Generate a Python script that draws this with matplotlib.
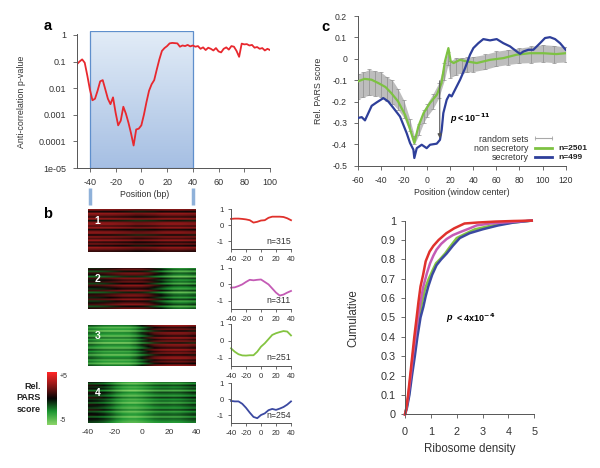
import numpy as np
import matplotlib
matplotlib.use('Agg')
import matplotlib.pyplot as plt
from matplotlib.colors import LinearSegmentedColormap
from matplotlib.lines import Line2D
from matplotlib.transforms import blended_transform_factory

plt.rcParams['font.family'] = ['Liberation Sans', 'DejaVu Sans']
plt.rcParams['axes.unicode_minus'] = False

W, H = 600, 468
TXT = '#333333'
SPINE = '#555555'

# ---- panel a: anti-correlation p-value along position ----
a_pos = list(range(-50, 101, 2))
a_pval = [0.08, 0.10, 0.12, 0.09, 0.03, 0.009, 0.0035, 0.004, 0.008, 0.018,
          0.02, 0.009, 0.004, 0.0025, 0.0045, 0.0012, 0.0004, 0.0006, 0.002, 0.0011,
          0.0005, 0.0002, 0.00007, 0.00028, 0.0003, 0.0004, 0.001, 0.003, 0.008, 0.014,
          0.02, 0.05, 0.12, 0.25, 0.32, 0.38, 0.48, 0.5, 0.49, 0.48,
          0.36, 0.4, 0.38, 0.42, 0.37, 0.40, 0.36, 0.38, 0.30, 0.34,
          0.27, 0.33, 0.30, 0.26, 0.32, 0.24, 0.22, 0.30, 0.34, 0.28,
          0.38, 0.36, 0.25, 0.15, 0.47, 0.44, 0.45, 0.40, 0.42, 0.33,
          0.35, 0.30, 0.32, 0.26, 0.30, 0.27]
a_xticks = [-40, -20, 0, 20, 40, 60, 80, 100]
a_yticks = [1e-5, 1e-4, 1e-3, 1e-2, 1e-1, 1]
a_ylabels = ['1e-05', '0.0001', '0.001', '0.01', '0.1', '1']
a_window = [-40, 40]

# ---- panel b: heatmaps (column profile + row streaks) and cluster means ----
hm_pos = list(range(-40, 41, 5))
hm_profiles = [
    [1.8, 1.8, 1.7, 1.7, 1.6, 1.5, 1.4, 1.2, 1.2, 1.3, 1.4, 1.6, 1.7, 1.7, 1.7, 1.6, 1.5],
    [0.0, 0.1, 0.3, 0.6, 0.9, 1.2, 1.3, 1.3, 1.2, 0.8, 0.0, -0.8, -1.6, -2.2, -2.4, -2.3, -2.0],
    [-2.2, -2.6, -2.9, -3.0, -3.0, -3.0, -2.9, -2.3, -1.2, 0.0, 1.0, 1.4, 1.6, 1.7, 1.7, 1.6, 1.3],
    [-0.4, -0.6, -1.0, -1.6, -2.4, -3.0, -3.3, -3.3, -3.0, -2.6, -2.2, -2.0, -2.0, -2.1, -2.0, -1.7, -1.4],
]
hm_rows = [
    [0.6, -1.6, 0.9, 0.2, -1.0, 1.3, -2.0, 0.5, 1.0, -0.6, 1.2, -1.4, 0.3, 0.8, -1.8, 0.7, -0.5, 1.1, -1.2, 0.4, -1.5, 0.9, 0.1, -0.9],
    [-0.8, 0.6, -1.5, 0.9, 0.2, -2.0, 1.0, -0.4, 0.7, -1.2, 1.3, 0.1, -0.9, 1.1, -1.8, 0.5, 0.9, -0.6, 1.4, -1.0, 0.3, 1.2, -1.4, 0.6],
    [1.0, -0.9, 0.4, -1.7, 0.8, 0.2, -1.2, 1.2, -0.5, 0.6, -2.0, 0.9, 0.1, -1.0, 1.3, -0.3, 0.7, -1.5, 0.5, 1.1, -0.8, 0.3, -1.3, 0.9],
    [0.5, -1.1, 1.0, -0.3, 0.6, -1.6, 0.9, 0.2, -0.9, 1.2, -0.4, 0.4, -1.3, 0.8, 0.1, -0.7, 1.1, -1.0, 0.3, 0.7, -1.4, 0.5, 0.0, -0.6],
]
cl_means = [
    [0.38, 0.4, 0.4, 0.38, 0.35, 0.3, 0.15, 0.2, 0.28, 0.3, 0.45, 0.52, 0.52, 0.52, 0.5, 0.42, 0.3],
    [-0.2, -0.18, -0.1, 0.0, 0.15, 0.28, 0.25, 0.28, 0.3, 0.15, 0.0, -0.25, -0.5, -0.68, -0.62, -0.5, -0.4],
    [-0.45, -0.65, -0.8, -0.87, -0.88, -0.86, -0.86, -0.65, -0.35, -0.15, 0.1, 0.35, 0.45, 0.52, 0.58, 0.55, 0.32],
    [-0.12, -0.15, -0.15, -0.3, -0.55, -0.85, -1.12, -1.2, -1.0, -0.9, -0.7, -0.62, -0.68, -0.6, -0.5, -0.35, -0.15],
]
cl_names = ['1', '2', '3', '4']
cl_n = ['n=315', 'n=311', 'n=251', 'n=254']
cl_colors = ['#e0312c', '#c45bb5', '#84c441', '#3b49a1']

# ---- panel c: PARS score around signal peptide ----
c_rand_pos = [-60, -55, -50, -45, -40, -35, -30, -25, -20, -15, -11, -7, -3, 0, 5, 10, 15, 18,
              20, 25, 30, 35, 40, 50, 60, 70, 80, 90, 100, 110, 120]
c_rand_mean = [-0.13, -0.12, -0.11, -0.115, -0.12, -0.14, -0.155, -0.19, -0.235, -0.31, -0.38, -0.33,
               -0.27, -0.24, -0.2, -0.15, -0.06, 0.0, -0.05, -0.035, -0.03, -0.028, -0.025, -0.015,
               0.0, 0.008, 0.015, 0.02, 0.026, 0.022, 0.02]
c_rand_err = [0.058, 0.058, 0.06, 0.058, 0.058, 0.056, 0.055, 0.048, 0.04, 0.03, 0.02, 0.025, 0.03,
              0.03, 0.035, 0.035, 0.04, 0.03, 0.04, 0.04, 0.035, 0.035, 0.035, 0.035, 0.035, 0.035,
              0.035, 0.038, 0.04, 0.04, 0.035]
c_non_pos = [-60, -54, -48, -42, -36, -31, -25, -19, -15, -11, -7.5, -3, 2.5, 8.5, 12.5, 15.5, 18.5,
             20.5, 23, 28.5, 34, 43, 54.5, 66, 77.5, 89, 100.5, 112, 120]
c_non_val = [-0.106, -0.094, -0.098, -0.114, -0.132, -0.16, -0.2, -0.262, -0.324, -0.394, -0.316,
             -0.254, -0.207, -0.168, -0.114, -0.012, 0.05, -0.012, -0.02, -0.005, -0.012, -0.02,
             -0.005, 0.003, 0.019, 0.026, 0.026, 0.022, 0.026]
c_sec_pos = [-60, -56.5, -53.7, -50.8, -47.9, -43.6, -37.8, -33.5, -29.1, -23.4, -17.6, -14.7, -11.8,
             -11, -8.9, -4.6, -0.3, 2.6, 8.4, 11.2, 12.7, 14.1, 17, 19.3, 21.3, 24.2, 28.6, 32.9,
             37.2, 40.1, 44.4, 48.7, 54.5, 60.3, 66, 71.8, 77.6, 80.5, 83.4, 87.7, 92, 97.8, 102.1,
             106.4, 110.8, 115.1, 120]
c_sec_val = [-0.277, -0.273, -0.288, -0.254, -0.22, -0.204, -0.184, -0.2, -0.23, -0.27, -0.348,
             -0.394, -0.425, -0.464, -0.418, -0.402, -0.418, -0.402, -0.397, -0.379, -0.332, -0.254,
             -0.192, -0.168, -0.176, -0.145, -0.098, -0.044, 0.019, 0.05, 0.073, 0.092, 0.086,
             0.092, 0.073, 0.058, 0.034, 0.023, 0.034, 0.042, 0.042, 0.073, 0.097, 0.101, 0.092,
             0.073, 0.042]
c_arrow = (11, -0.09, -0.385)

# ---- panel d: cumulative ribosome density per cluster ----
d_x = [
    [0, 0.05, 0.12, 0.2, 0.28, 0.36, 0.45, 0.52, 0.6, 0.7, 0.8, 0.95, 1.1, 1.3, 1.6, 1.9, 2.3, 2.8, 3.5, 4.2, 4.9],
    [0, 0.05, 0.13, 0.22, 0.3, 0.4, 0.5, 0.6, 0.71, 0.85, 0.97, 1.1, 1.22, 1.4, 1.61, 1.85, 2.12, 2.5, 2.77, 3.3, 4.0, 4.9],
    [0, 0.06, 0.15, 0.24, 0.33, 0.43, 0.55, 0.66, 0.78, 0.92, 1.09, 1.2, 1.35, 1.55, 1.74, 2.0, 2.3, 2.7, 3.2, 3.8, 4.9],
    [0, 0.07, 0.17, 0.27, 0.38, 0.48, 0.6, 0.71, 0.8, 0.9, 1.05, 1.22, 1.4, 1.61, 1.85, 2.12, 2.5, 3.0, 3.6, 4.2, 4.9],
]
d_y = [
    [0, 0.03, 0.1, 0.2, 0.3, 0.4, 0.5, 0.58, 0.66, 0.72, 0.79, 0.84, 0.87, 0.9, 0.935, 0.96, 0.985, 0.99, 0.995, 0.998, 1.0],
    [0, 0.03, 0.1, 0.2, 0.3, 0.4, 0.5, 0.58, 0.66, 0.73, 0.78, 0.82, 0.85, 0.88, 0.905, 0.925, 0.94, 0.96, 0.975, 0.985, 0.992, 1.0],
    [0, 0.03, 0.1, 0.2, 0.3, 0.4, 0.5, 0.58, 0.65, 0.7, 0.75, 0.78, 0.8, 0.83, 0.865, 0.91, 0.93, 0.955, 0.97, 0.985, 1.0],
    [0, 0.03, 0.1, 0.2, 0.3, 0.4, 0.5, 0.555, 0.61, 0.66, 0.72, 0.77, 0.8, 0.83, 0.87, 0.91, 0.935, 0.955, 0.975, 0.99, 1.0],
]
d_order = [2, 3, 1, 0]


fig = plt.figure(figsize=(W / 100, H / 100), dpi=100)


def add_ax(left, top, right, bottom, **kw):
    return fig.add_axes([left / W, 1 - bottom / H, (right - left) / W, (bottom - top) / H], **kw)


def ftext(px, py, s, **kw):
    kw.setdefault('color', TXT)
    return fig.text(px / W, 1 - py / H, s, **kw)


def style(ax, size, pad, length=2.5):
    for side in ['top', 'right']:
        ax.spines[side].set_visible(False)
    for side in ['left', 'bottom']:
        ax.spines[side].set_color(SPINE)
        ax.spines[side].set_linewidth(0.7)
    ax.tick_params(labelsize=size, pad=pad, length=length, width=0.6,
                   color=SPINE, labelcolor=TXT)


# panel a
bg = add_ax(77, 31, 270, 168)
bg.set_xlim(-50, 100)
bg.set_ylim(0, 1)
grad = LinearSegmentedColormap.from_list('win', ['#e2ecf7', '#a6bfe3'])
bg.imshow(np.linspace(0, 1, 64).reshape(-1, 1), cmap=grad, aspect='auto',
          extent=(a_window[0], a_window[1], 0, 1), origin='upper')
bg.add_patch(plt.Rectangle((a_window[0], 0), a_window[1] - a_window[0], 1,
                           fill=False, ec='#5f8fcc', lw=0.9))
bg.set_xlim(-50, 100)
bg.set_ylim(0, 1)
bg.axis('off')

ax_a = add_ax(77, 31, 270, 168)
ax_a.patch.set_alpha(0)
ax_a.plot(a_pos, a_pval, color='#e8282e', lw=1.3)
ax_a.set_yscale('log')
ax_a.set_xlim(-50, 100)
ax_a.set_ylim(1e-5, 1.4)
ax_a.set_xticks(a_xticks)
ax_a.set_yticks(a_yticks)
ax_a.set_yticklabels(a_ylabels)
ax_a.yaxis.set_minor_locator(matplotlib.ticker.NullLocator())
style(ax_a, 6.5, 4.5, 3)
ax_a.spines['left'].set_bounds(1e-5, 1.05)

# little window markers below panel a
tr = blended_transform_factory(ax_a.transData, fig.transFigure)
for xw in a_window:
    ax_a.plot([xw, xw], [1 - 188 / H, 1 - 205 / H], transform=tr, color='#8fb1d9',
              lw=2.5, clip_on=False, solid_capstyle='butt')

ftext(47.5, 26, 'a', fontsize=10.5, fontweight='bold', ha='center', va='center', color='black')
ftext(21.5, 102, 'Anti-correlation p-value', fontsize=6.4, rotation=90, ha='center', va='center')
ftext(145, 194, 'Position (bp)', fontsize=6.3, ha='center', va='center')

# panel b
pars = LinearSegmentedColormap.from_list('pars', [(0, '#8ad468'), (0.25, '#1e9632'), (0.5, '#050505'),
                                                  (0.75, '#8c1818'), (1, '#ff2626')])
hm_tops = [209, 268, 325, 382]
hm_bots = [252, 309, 366, 423]
ln_tops = [209, 268, 324, 383]
ln_bots = [249, 309, 366, 423]
for i in range(4):
    ax = add_ax(88, hm_tops[i], 196, hm_bots[i])
    mat = np.add.outer(np.array(hm_rows[i]), np.array(hm_profiles[i]))
    ax.imshow(mat, cmap=pars, vmin=-5, vmax=5, aspect='auto', interpolation='bilinear',
              extent=(hm_pos[0], hm_pos[-1], 0, len(hm_rows[i])))
    ax.text(0.09, 0.73, cl_names[i], transform=ax.transAxes, color='white', fontsize=7.5,
            fontweight='bold', ha='center', va='center')
    for s in ax.spines.values():
        s.set_visible(False)
    ax.set_yticks([])
    if i == 3:
        ax.set_xticks([-40, -20, 0, 20, 40])
        ax.tick_params(length=0, labelsize=6, pad=4, labelcolor=TXT)
    else:
        ax.set_xticks([])

    lx = add_ax(231, ln_tops[i], 291, ln_bots[i])
    lx.plot(hm_pos, cl_means[i], color=cl_colors[i], lw=1.3, clip_on=False)
    lx.set_xlim(-40, 40)
    lx.set_ylim(-1.5, 1)
    lx.set_xticks([-40, -20, 0, 20, 40])
    lx.set_yticks([-1, 0, 1])
    style(lx, 5.6, 2.5, 2.5)
    lx.text(1.0, 0.2, cl_n[i], transform=lx.transAxes, fontsize=6.3, ha='right', va='center', color=TXT)

ftext(48, 214.5, 'b', fontsize=10.5, fontweight='bold', ha='center', va='center', color='black')

# colour scale
cb = add_ax(47, 372, 57, 425)
cb.imshow(np.linspace(5, -5, 100).reshape(-1, 1), cmap=pars, vmin=-5, vmax=5, aspect='auto')
cb.axis('off')
ftext(60, 376, '+5', fontsize=5, ha='left', va='center')
ftext(60, 420.5, '-5', fontsize=5, ha='left', va='center')
ftext(41, 398, 'Rel.\nPARS\nscore', fontsize=6.5, fontweight='bold', ha='right', va='center',
      linespacing=1.35, color='#222222')

# panel c
ax_c = add_ax(357.7, 16, 565.7, 165.7)
lo = np.array(c_rand_mean) - np.array(c_rand_err)
hi = np.array(c_rand_mean) + np.array(c_rand_err)
ax_c.fill_between(c_rand_pos, lo, hi, color='#bdbdbd', lw=0, zorder=1)
ax_c.errorbar(c_rand_pos, c_rand_mean, yerr=c_rand_err, fmt='none', ecolor='#8f8f8f',
              elinewidth=0.5, capsize=1.2, capthick=0.5, zorder=2)
ax_c.plot(c_non_pos, c_non_val, color='#7dc242', lw=1.6, zorder=3)
ax_c.plot(c_sec_pos, c_sec_val, color='#2e3f9a', lw=1.6, zorder=4)
ax_c.annotate('', xy=(c_arrow[0], c_arrow[2]), xytext=(c_arrow[0], c_arrow[1]),
              arrowprops=dict(arrowstyle='-|>', color='#555555', lw=0.8, mutation_scale=6), zorder=5)
ax_c.text(19.8, -0.277, 'p', fontsize=6.5, fontweight='bold', fontstyle='italic', ha='left', va='center')
ax_c.text(25.6, -0.277, r'< 10$^{\mathbf{-11}}$', fontsize=6.5, fontweight='bold', ha='left', va='center')
ax_c.set_xlim(-60, 120)
ax_c.set_ylim(-0.5, 0.2)
ax_c.set_xticks(range(-60, 121, 20))
ax_c.set_yticks([0.2, 0.1, 0, -0.1, -0.2, -0.3, -0.4, -0.5])
ax_c.set_yticklabels(['0.2', '0.1', '0', '-0.1', '-0.2', '-0.3', '-0.4', '-0.5'])
style(ax_c, 6.2, 5, 2.7)
handles = [Line2D([], [], color='#a8a8a8', lw=0.8, marker='|', markersize=3, mew=0.6),
           Line2D([], [], color='#7dc242', lw=2),
           Line2D([], [], color='#2e3f9a', lw=2)]
leg = ax_c.legend(handles, ['random sets', 'non secretory', 'secretory'], loc='lower right',
                  bbox_to_anchor=(0.949, 0.022), markerfirst=False, frameon=False, fontsize=6.4,
                  handlelength=2.6, handletextpad=0.4, labelspacing=0.05, borderpad=0, numpoints=2,
                  borderaxespad=0)
for t in leg.get_texts():
    t.set_color(TXT)
ax_c.text(0.963, 0.112, 'n=2501', transform=ax_c.transAxes, fontsize=6, fontweight='bold',
          ha='left', va='center', color='#222222')
ax_c.text(0.963, 0.053, 'n=499', transform=ax_c.transAxes, fontsize=6, fontweight='bold',
          ha='left', va='center', color='#222222')
ftext(325.5, 27, 'c', fontsize=10.5, fontweight='bold', ha='center', va='center', color='black')
ftext(318.3, 90.7, 'Rel. PARS score', fontsize=6.4, rotation=90, ha='center', va='center')
ftext(461.7, 192.3, 'Position (window center)', fontsize=6.3, ha='center', va='center')

# panel d
ax_d = add_ax(405, 220.6, 534.3, 414.3)
for k in d_order:
    ax_d.plot(d_x[k], d_y[k], color=cl_colors[k], lw=1.8, clip_on=False)
ax_d.set_xlim(0, 5)
ax_d.set_ylim(0, 1)
ax_d.set_xticks(range(0, 6))
ax_d.set_yticks([i / 10 for i in range(11)])
ax_d.set_yticklabels(['0'] + ['0.%d' % i for i in range(1, 10)] + ['1'])
style(ax_d, 7.8, 3.5, 3)
ax_d.tick_params(axis='x', pad=6.5)
ax_d.text(1.61, 0.5, 'p', fontsize=6.5, fontweight='bold', fontstyle='italic', ha='left', va='center')
ax_d.text(1.98, 0.5, r'< 4x10$^{\mathbf{-4}}$', fontsize=6.5, fontweight='bold', ha='left', va='center')
ftext(353.3, 318, 'Cumulative', fontsize=8.3, rotation=90, ha='center', va='center')
ftext(470, 449, 'Ribosome density', fontsize=8.3, ha='center', va='center')

fig.savefig('out.png', dpi=100)
